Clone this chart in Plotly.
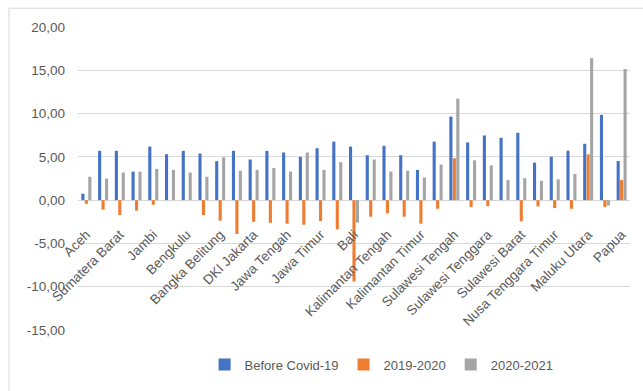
import plotly.graph_objects as go

provinces = ["Aceh", "Sumatera Utara", "Sumatera Barat", "Riau", "Jambi", "Sumatera Selatan",
             "Bengkulu", "Lampung", "Bangka Belitung", "Kepulauan Riau", "DKI Jakarta",
             "Jawa Barat", "Jawa Tengah", "DI Yogyakarta", "Jawa Timur", "Banten", "Bali",
             "Kalimantan Barat", "Kalimantan Tengah", "Kalimantan Selatan", "Kalimantan Timur",
             "Sulawesi Utara", "Sulawesi Tengah", "Sulawesi Selatan", "Sulawesi Tenggara",
             "Gorontalo", "Sulawesi Barat", "Nusa Tenggara Barat", "Nusa Tenggara Timur",
             "Maluku", "Maluku Utara", "Papua Barat", "Papua"]

before_covid = [0.74, 5.69, 5.69, 3.30, 6.19, 5.30, 5.69, 5.38, 4.50, 5.69, 4.69, 5.69, 5.50,
                5.00, 6.00, 6.76, 6.19, 5.19, 6.27, 5.19, 3.50, 6.76, 9.65, 6.67, 7.47, 7.20,
                7.78, 4.33, 5.02, 5.71, 6.51, 9.85, 4.52]
y2019_2020 = [-0.42, -1.10, -1.73, -1.22, -0.53, 0.0, 0.0, -1.73, -2.37, -3.90, -2.50, -2.62,
              -2.72, -2.84, -2.42, -3.38, -9.40, -1.92, -1.53, -1.92, -2.72, -1.00, 4.84, -0.80,
              -0.69, 0.0, -2.45, -0.73, -0.92, -1.00, 5.29, -0.80, 2.34]
y2020_2021 = [2.70, 2.50, 3.19, 3.30, 3.61, 3.50, 3.19, 2.70, 4.95, 3.39, 3.50, 3.71, 3.30,
              5.50, 3.50, 4.38, -2.60, 4.69, 3.30, 3.39, 2.61, 4.11, 11.72, 4.60, 4.02, 2.34,
              2.53, 2.22, 2.41, 3.02, 16.40, -0.61, 15.15]

series_names = ["Before Covid-19", "2019-2020", "2020-2021"]
colors = ["#4472C4", "#ED7D31", "#A5A5A5"]

y_tickvals = [-15, -10, -5, 0, 5, 10, 15, 20]
y_ticktext = ["-15,00", "-10,00", "-5,00", "0,00", "5,00", "10,00", "15,00", "20,00"]

FONT = "Liberation Sans"
GREY = "#595959"

fig = go.Figure()
for name, vals, col in zip(series_names, [before_covid, y2019_2020, y2020_2021], colors):
    fig.add_trace(go.Bar(x=provinces, y=vals, name=name, marker_color=col,
                         marker_line_width=0))

ymin, ymax = -15, 20
zero_pos = (0 - ymin) / (ymax - ymin)

fig.update_layout(
    width=643, height=391,
    margin=dict(l=78, r=13, t=27, b=58),
    paper_bgcolor="white", plot_bgcolor="white",
    barmode="group", bargap=0.38, bargroupgap=0.1,
    font=dict(family=FONT, size=13.5, color=GREY),
    showlegend=True,
    legend=dict(orientation="h", x=0.55, xanchor="center", y=-0.114, yanchor="middle",
                font=dict(family=FONT, size=13, color=GREY),
                itemwidth=30, traceorder="normal"),
    xaxis=dict(type="category", anchor="free", position=zero_pos,
               tickangle=-45, tickmode="linear", tick0=0, dtick=2,
               showgrid=False, showline=False, ticks="", ticklabelstandoff=23,
               tickfont=dict(family=FONT, size=13.5, color=GREY)),
    yaxis=dict(range=[ymin, ymax], tickvals=y_tickvals, ticktext=y_ticktext,
               showgrid=True, gridcolor="#D9D9D9", gridwidth=1,
               zeroline=True, zerolinecolor="#D9D9D9", zerolinewidth=1,
               showline=False, ticks="", ticklabelstandoff=12,
               tickfont=dict(family=FONT, size=13.5, color=GREY)),
    shapes=[dict(type="rect", xref="paper", yref="paper",
                 x0=(9 - 78) / 552, x1=1.2, y0=-0.4, y1=1 + (27 - 8) / 306,
                 line=dict(color="#D9D9D9", width=1), fillcolor="rgba(0,0,0,0)",
                 layer="below")],
)

fig.write_html("out.html")
